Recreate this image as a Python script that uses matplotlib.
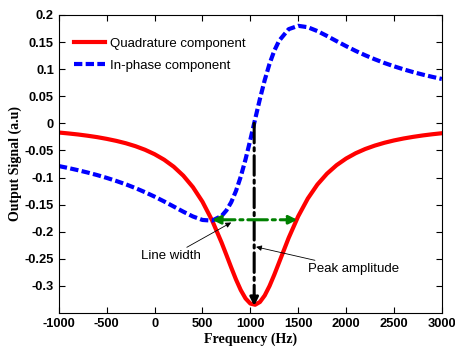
import matplotlib
matplotlib.use('Agg')
import matplotlib.pyplot as plt

plt.rcParams['axes.unicode_minus'] = False

# frequency grid (Hz) and the two curves
freq = [-1000, -900, -800, -700, -600, -500, -400, -300, -200, -100,
        0, 100, 200, 300, 400, 500, 600, 700, 750, 800, 850, 900, 950,
        1000, 1050, 1100, 1150, 1200, 1250, 1300, 1400, 1500, 1600, 1700, 1800, 1900,
        2000, 2100, 2200, 2300, 2400, 2500, 2600, 2700, 2800, 2900, 3000]
quadrature = [-0.0170, -0.0187, -0.0206, -0.0229, -0.0255, -0.0287, -0.0324, -0.0368, -0.0422, -0.0488,
              -0.0570, -0.0672, -0.0801, -0.0966, -0.1177, -0.1447, -0.1789, -0.2202, -0.2429, -0.2659,
              -0.2881, -0.3078, -0.3232,
              -0.3326, -0.3348, -0.3297, -0.3177, -0.3003, -0.2794, -0.2568, -0.2115, -0.1715, -0.1388,
              -0.1130, -0.0930, -0.0773,
              -0.0650, -0.0552, -0.0474, -0.0411, -0.0359, -0.0316, -0.0280, -0.0250, -0.0224, -0.0202, -0.0183]
in_phase = [-0.0789, -0.0825, -0.0865, -0.0908, -0.0955, -0.1007, -0.1064, -0.1126, -0.1195, -0.1271,
            -0.1353, -0.1442, -0.1536, -0.1631, -0.1719, -0.1783, -0.1796, -0.1709, -0.1607, -0.1457,
            -0.1249, -0.0983, -0.0664,
            -0.0303, 0.0076, 0.0451, 0.0797, 0.1096, 0.1339, 0.1523, 0.1737, 0.1799, 0.1773,
            0.1702, 0.1612, 0.1517,
            0.1424, 0.1336, 0.1255, 0.1181, 0.1113, 0.1052, 0.0996, 0.0945, 0.0899, 0.0857, 0.0818]

# markers for peak and line width
peak_f = 1040
peak_top = 0.0
peak_bottom = -0.337
width_y = -0.178
width_left = 600
width_right = 1490

fig = plt.figure(figsize=(4.56, 3.47), dpi=100)
ax = fig.add_axes([0.129, 0.098, 0.840, 0.859])

ax.plot(freq, quadrature, color='red', lw=3, label='Quadrature component')
ax.plot(freq, in_phase, color='blue', lw=3, ls=(0, (2.0, 0.8)), label='In-phase component')

# vertical peak amplitude line
ax.annotate('', xy=(peak_f, peak_bottom), xytext=(peak_f, peak_top),
            arrowprops=dict(arrowstyle='-|>', color='black', lw=2.2, ls='-.',
                            mutation_scale=12, shrinkA=0, shrinkB=0))
# horizontal line width line
ax.annotate('', xy=(width_right, width_y), xytext=(width_left, width_y),
            arrowprops=dict(arrowstyle='<|-|>', color='green', lw=2.2, ls='-.',
                            mutation_scale=12, shrinkA=0, shrinkB=0))

ax.annotate('Line width', xy=(800, -0.183), xytext=(-140, -0.245),
            fontsize=9.5, fontfamily='Liberation Sans', va='center',
            arrowprops=dict(arrowstyle='-|>', color='black', lw=0.6,
                            mutation_scale=8, shrinkA=0, shrinkB=0))
ax.annotate('Peak amplitude', xy=(1060, -0.228), xytext=(1600, -0.269),
            fontsize=9.5, fontfamily='Liberation Sans', va='center',
            arrowprops=dict(arrowstyle='-|>', color='black', lw=0.6,
                            mutation_scale=8, shrinkA=0, shrinkB=0))

ax.set_xlim(-1000, 3000)
ax.set_ylim(-0.35, 0.2)
ax.set_xticks(range(-1000, 3001, 500))
ax.set_yticks([0.2, 0.15, 0.1, 0.05, 0, -0.05, -0.1, -0.15, -0.2, -0.25, -0.3])
ax.set_yticklabels(['0.2', '0.15', '0.1', '0.05', '0', '-0.05', '-0.1', '-0.15', '-0.2', '-0.25', '-0.3'])
ax.tick_params(direction='in', top=True, right=True, length=4, width=0.8)
for lab in ax.get_xticklabels() + ax.get_yticklabels():
    lab.set_fontfamily('Liberation Sans')
    lab.set_fontweight('bold')
    lab.set_fontsize(9.3)

ax.set_xlabel('Frequency (Hz)', fontfamily='Liberation Serif', fontweight='bold', fontsize=10, labelpad=2)
ax.set_ylabel('Output Signal (a.u)', fontfamily='Liberation Serif', fontweight='bold', fontsize=10, labelpad=2)

ax.legend(loc='upper left', bbox_to_anchor=(0.039, 0.925), frameon=False,
          prop={'family': 'Liberation Sans', 'size': 9.5},
          handlelength=2.35, borderaxespad=0, borderpad=0, labelspacing=0.78, handletextpad=0.4)

fig.savefig('out.png', dpi=100)
